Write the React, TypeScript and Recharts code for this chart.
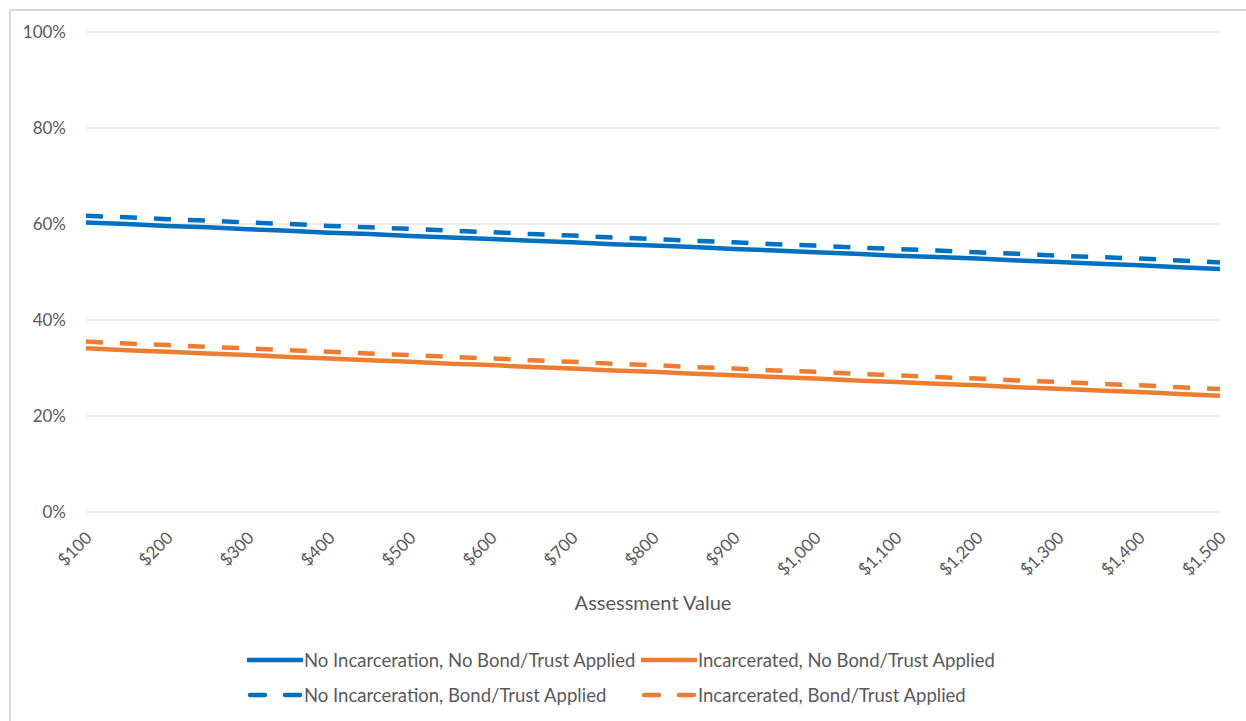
import React from "react";
import { LineChart, Line, XAxis, YAxis, CartesianGrid } from "recharts";

const assessmentValues = [
  100, 150, 200, 250, 300, 350, 400, 450, 500, 550, 600, 650, 700, 750, 800,
  850, 900, 950, 1000, 1050, 1100, 1150, 1200, 1250, 1300, 1350, 1400, 1450, 1500,
];
const noIncNoBond = [
  60.3, 60.0, 59.6, 59.3, 58.9, 58.6, 58.2, 57.9, 57.5, 57.2, 56.9, 56.5, 56.2, 55.8, 55.5,
  55.2, 54.8, 54.5, 54.1, 53.8, 53.4, 53.1, 52.8, 52.4, 52.1, 51.7, 51.4, 51.0, 50.6,
];
const noIncBond = [
  61.7, 61.4, 61.0, 60.7, 60.3, 60.0, 59.6, 59.3, 59.0, 58.6, 58.3, 57.9, 57.6, 57.2, 56.9,
  56.5, 56.2, 55.8, 55.5, 55.1, 54.8, 54.5, 54.1, 53.8, 53.4, 53.1, 52.8, 52.4, 52.0,
];
const incNoBond = [
  34.1, 33.7, 33.4, 33.0, 32.7, 32.3, 32.0, 31.6, 31.3, 30.9, 30.6, 30.2, 29.9, 29.5, 29.2,
  28.8, 28.5, 28.1, 27.8, 27.4, 27.1, 26.7, 26.4, 26.0, 25.7, 25.3, 25.0, 24.6, 24.2,
];
const incBond = [
  35.5, 35.1, 34.8, 34.4, 34.1, 33.7, 33.4, 33.0, 32.7, 32.3, 32.0, 31.6, 31.3, 30.9, 30.6,
  30.2, 29.9, 29.5, 29.2, 28.8, 28.5, 28.1, 27.8, 27.4, 27.1, 26.7, 26.4, 26.0, 25.6,
];
const xTicks = [100, 200, 300, 400, 500, 600, 700, 800, 900, 1000, 1100, 1200, 1300, 1400, 1500];
const yTicks = [0, 20, 40, 60, 80, 100];

const seriesNames = [
  "No Incarceration, No Bond/Trust Applied",
  "Incarcerated, No Bond/Trust Applied",
  "No Incarceration, Bond/Trust Applied",
  "Incarcerated, Bond/Trust Applied",
];

const BLUE = "#0070C0";
const ORANGE = "#ED7D31";
const FONT = "Lato, 'Noto Sans', sans-serif";
const TEXT = "#595959";

const data = assessmentValues.map((v, i) => ({
  v,
  a: noIncNoBond[i],
  b: noIncBond[i],
  c: incNoBond[i],
  d: incBond[i],
}));

const fmtMoney = (v: number) => "$" + v.toLocaleString("en-US");

const XTick = (props: any) => {
  const { x, y, payload } = props;
  const ax = x + 7;
  const ay = y + 25;
  return (
    <text
      x={ax}
      y={ay}
      transform={`rotate(-45, ${ax}, ${ay})`}
      textAnchor="end"
      fill={TEXT}
      fontSize={17}
      fontFamily={FONT}
    >
      {fmtMoney(payload.value)}
    </text>
  );
};

const LegendItem = ({ color, dashed, label, left, top }: any) => (
  <div style={{ position: "absolute", left, top, display: "flex", alignItems: "center", height: 20 }}>
    <svg width={56} height={10} style={{ display: "block" }}>
      <line
        x1={dashed ? 3 : 0}
        y1={5}
        x2={dashed ? 54 : 56}
        y2={5}
        stroke={color}
        strokeWidth={4.5}
        strokeDasharray={dashed ? "15 20" : undefined}
        strokeLinecap={dashed ? "round" : "butt"}
      />
    </svg>
    <span style={{ fontFamily: FONT, fontSize: 18.5, color: TEXT, whiteSpace: "nowrap", marginLeft: 1 }}>{label}</span>
  </div>
);

export default function App() {
  return (
    <div style={{ position: "absolute", left: 0, top: 0, width: 1246, height: 721, background: "#fff" }}>
      <div
        style={{
          position: "absolute",
          left: 9,
          top: 9,
          width: 1237,
          height: 712,
          borderTop: "2px solid #d9d9d9",
          borderLeft: "2px solid #d9d9d9",
        }}
      />
      <div style={{ position: "absolute", left: 9, top: 9 }}>
        <LineChart
          width={1232}
          height={707}
          data={data}
          margin={{ top: 23, right: 21, left: 0, bottom: 104 }}
        >
          <CartesianGrid horizontal vertical={false} stroke="#d9d9d9" strokeWidth={1} />
          <XAxis
            dataKey="v"
            type="number"
            domain={[100, 1500]}
            ticks={xTicks}
            interval={0}
            axisLine={false}
            tickLine={false}
            tickSize={0}
            tick={<XTick />}
            height={100}
            label={{
              value: "Assessment Value",
              position: "insideBottom",
              offset: 2,
              fill: TEXT,
              fontSize: 20,
              fontFamily: FONT,
            }}
          />
          <YAxis
            type="number"
            domain={[0, 100]}
            ticks={yTicks}
            width={77}
            axisLine={false}
            tickLine={false}
            tickSize={0}
            tickMargin={20}
            tickFormatter={(v: number) => `${v}%`}
            tick={{ fill: TEXT, fontSize: 17, fontFamily: FONT }}
          />
          <Line dataKey="a" name={seriesNames[0]} stroke={BLUE} strokeWidth={4.5} dot={false} isAnimationActive={false} type="linear" />
          <Line dataKey="c" name={seriesNames[1]} stroke={ORANGE} strokeWidth={4.5} dot={false} isAnimationActive={false} type="linear" />
          <Line dataKey="b" name={seriesNames[2]} stroke={BLUE} strokeWidth={4.5} strokeDasharray="17 17" dot={false} isAnimationActive={false} type="linear" />
          <Line dataKey="d" name={seriesNames[3]} stroke={ORANGE} strokeWidth={4.5} strokeDasharray="17 17" dot={false} isAnimationActive={false} type="linear" />
        </LineChart>
      </div>
      <LegendItem color={BLUE} label={seriesNames[0]} left={247} top={650} />
      <LegendItem color={ORANGE} label={seriesNames[1]} left={641} top={650} />
      <LegendItem color={BLUE} dashed label={seriesNames[2]} left={247} top={685} />
      <LegendItem color={ORANGE} dashed label={seriesNames[3]} left={641} top={685} />
    </div>
  );
}
